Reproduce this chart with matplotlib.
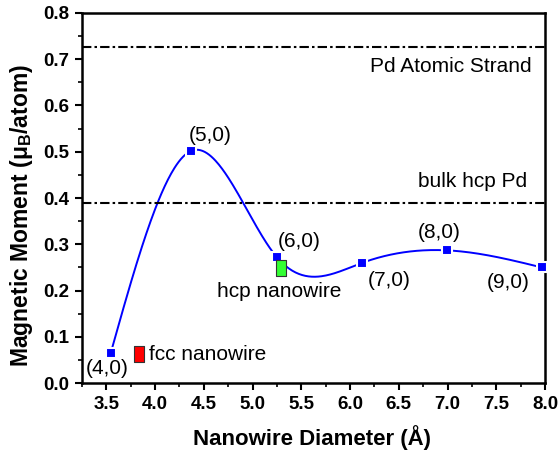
import numpy as np
import matplotlib
matplotlib.use("Agg")
import matplotlib.pyplot as plt
from matplotlib.path import Path

plt.rcParams['font.family'] = ['Liberation Sans', 'DejaVu Sans']
plt.rcParams['mathtext.fontset'] = 'custom'
plt.rcParams['mathtext.rm'] = 'Liberation Sans'
plt.rcParams['mathtext.bf'] = 'Liberation Sans:bold'

# Data
diam = [3.544, 4.373, 5.25, 6.124, 6.997, 7.97]
moment = [0.065, 0.502, 0.272, 0.260, 0.287, 0.250]
labels = ['(4,0)', '(5,0)', '(6,0)', '(7,0)', '(8,0)', '(9,0)']
fcc_x, fcc_y = 3.83, 0.063
hcp_x, hcp_y = 5.29, 0.248
atomic_strand = 0.725
bulk_hcp = 0.390


def natural_spline(x, y, xs):
    x = np.asarray(x, float); y = np.asarray(y, float)
    n = len(x)
    h = np.diff(x)
    A = np.zeros((n, n)); b = np.zeros(n)
    A[0, 0] = 1; A[-1, -1] = 1
    for i in range(1, n - 1):
        A[i, i - 1] = h[i - 1]
        A[i, i] = 2 * (h[i - 1] + h[i])
        A[i, i + 1] = h[i]
        b[i] = 3 * ((y[i + 1] - y[i]) / h[i] - (y[i] - y[i - 1]) / h[i - 1])
    c = np.linalg.solve(A, b)
    out = np.empty_like(xs)
    for k, xv in enumerate(xs):
        i = min(max(np.searchsorted(x, xv) - 1, 0), n - 2)
        dx = xv - x[i]
        bi = (y[i + 1] - y[i]) / h[i] - h[i] * (2 * c[i] + c[i + 1]) / 3
        di = (c[i + 1] - c[i]) / (3 * h[i])
        out[k] = y[i] + bi * dx + c[i] * dx ** 2 + di * dx ** 3
    return out


fig = plt.figure(figsize=(5.59, 4.54), dpi=100)
ax = fig.add_axes([0.1467, 0.1557, 0.8283, 0.8163])

xs = np.linspace(diam[0], diam[-1], 400)
ax.plot(xs, natural_spline(diam, moment, xs), color='#0000ff', lw=1.4, zorder=2)
ax.plot(diam, moment, 's', color='#0000ff', ms=6.5, mec='white', mew=1.5,
        zorder=3, clip_on=False)

ax.axhline(atomic_strand, color='black', lw=1.5, dashes=[4.5, 1.5, 1.2, 1.5])
ax.axhline(bulk_hcp, color='black', lw=1.5, dashes=[4.5, 1.5, 1.2, 1.5])

rect = Path([(-0.32, -0.5), (0.32, -0.5), (0.32, 0.5), (-0.32, 0.5), (-0.32, -0.5)],
            [1, 2, 2, 2, 79])
ax.plot([fcc_x], [fcc_y], marker=rect, color='#ff0000', mec='#333333', mew=0.8,
        ms=12, zorder=4, linestyle='none')
ax.plot([hcp_x], [hcp_y], marker=rect, color='#33ff33', mec='#333333', mew=0.8,
        ms=12, zorder=4, linestyle='none')

fs = 15
ax.text(3.513, 0.033, labels[0], ha='center', va='center', fontsize=fs)
ax.text(4.562, 0.536, labels[1], ha='center', va='center', fontsize=fs)
ax.text(5.257, 0.306, labels[2], ha='left', va='center', fontsize=fs)
ax.text(6.40, 0.223, labels[3], ha='center', va='center', fontsize=fs)
ax.text(6.912, 0.325, labels[4], ha='center', va='center', fontsize=fs)
ax.text(7.621, 0.2166, labels[5], ha='center', va='center', fontsize=fs)
ax.text(3.935, 0.063, 'fcc nanowire', ha='left', va='center', fontsize=fs)
ax.text(4.63, 0.198, 'hcp nanowire', ha='left', va='center', fontsize=fs)
ax.text(7.82, 0.435, 'bulk hcp Pd', ha='right', va='center', fontsize=fs)
ax.text(7.86, 0.683, 'Pd Atomic Strand', ha='right', va='center', fontsize=fs)

ax.set_xlim(3.25, 8.0)
ax.set_ylim(0.0, 0.8)
ax.set_xticks(np.arange(3.5, 8.01, 0.5))
ax.set_yticks(np.arange(0.0, 0.81, 0.1))
ax.set_xticks(np.arange(3.25, 8.01, 0.25), minor=True)
ax.set_yticks(np.arange(0.0, 0.81, 0.05), minor=True)
ax.xaxis.set_major_formatter(matplotlib.ticker.FormatStrFormatter('%.1f'))
ax.yaxis.set_major_formatter(matplotlib.ticker.FormatStrFormatter('%.1f'))
ax.tick_params(which='major', direction='out', length=5, width=1.5, labelsize=13.5, pad=4)
ax.tick_params(which='minor', direction='out', length=3, width=1.2)
for lab in ax.get_xticklabels() + ax.get_yticklabels():
    lab.set_fontweight('bold')
for sp in ax.spines.values():
    sp.set_linewidth(1.8)

ax.set_xlabel('Nanowire Diameter (Å)', fontsize=16, fontweight='bold', va='center')
ax.xaxis.set_label_coords(0.497, -0.145)
ax.set_ylabel('Magnetic Moment (μ$_\\mathbf{B}$/atom)', fontsize=16.5, fontweight='bold', va='center')
ax.yaxis.set_label_coords(-0.130, 0.454)

fig.savefig('out.png', dpi=100)
